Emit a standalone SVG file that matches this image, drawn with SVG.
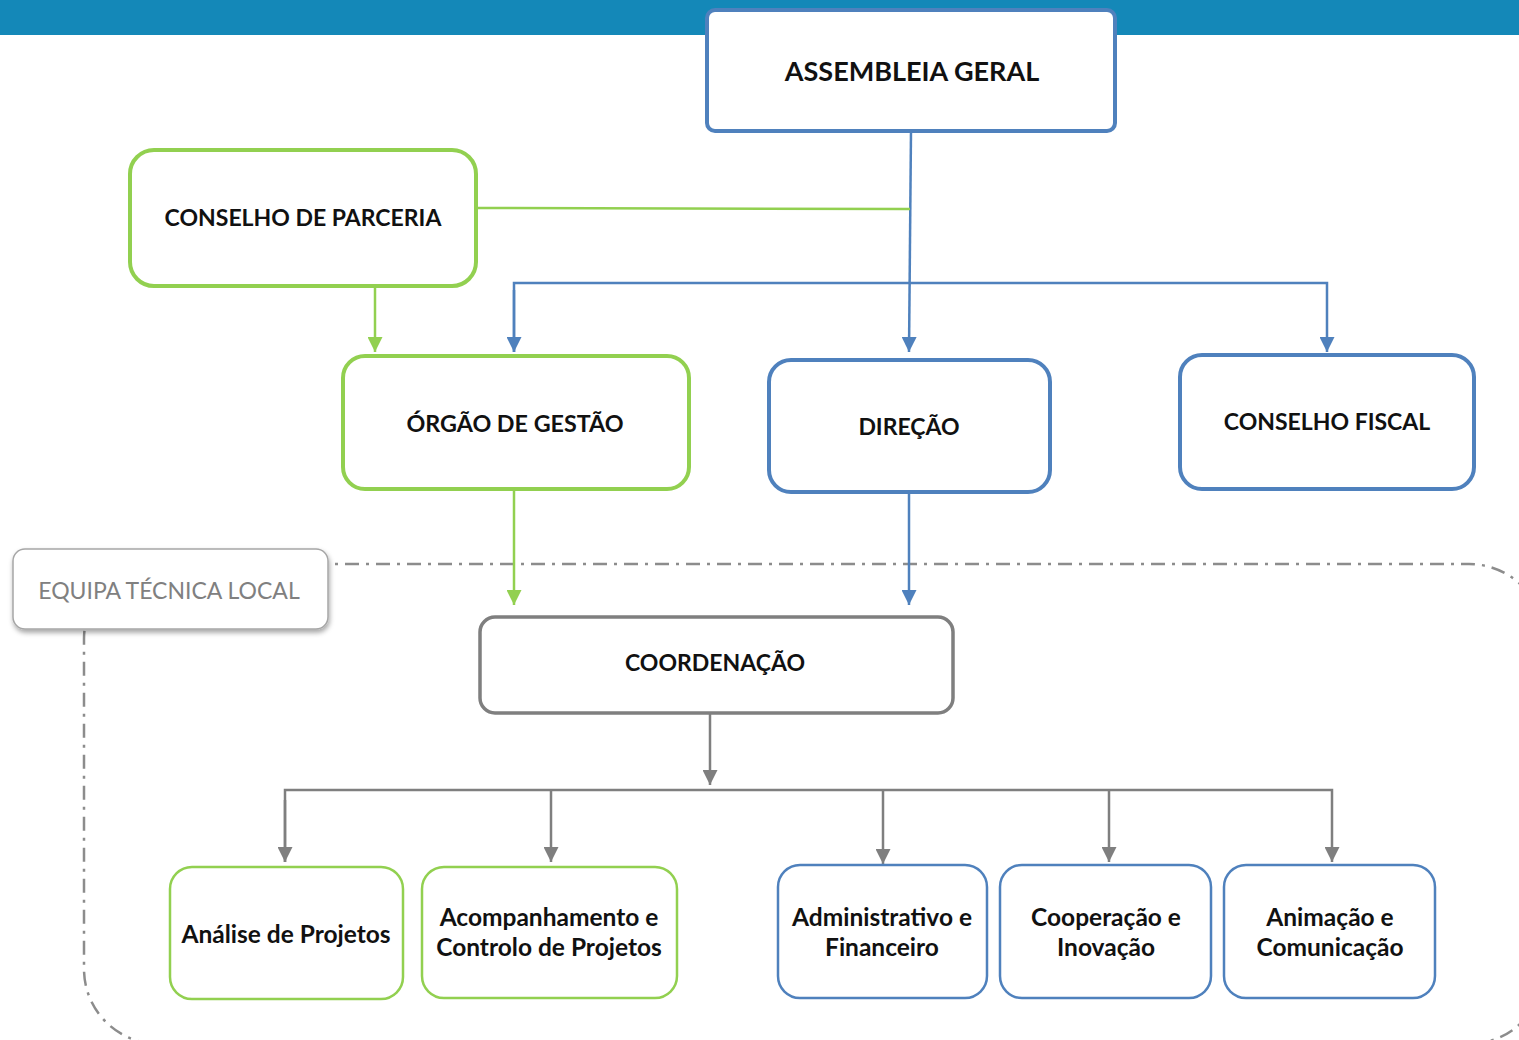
<svg xmlns="http://www.w3.org/2000/svg" width="1519" height="1040" viewBox="0 0 1519 1040">
<defs>
<style>
.t{font-family:Lato,"Open Sans","Liberation Sans",sans-serif;font-weight:bold;fill:#111;text-anchor:middle;dominant-baseline:central}
.s{font-size:24.5px}
.blue{fill:#fff;stroke:#4F81BD}
.green{fill:#fff;stroke:#92D050}
.cb{fill:none;stroke:#4F81BD;stroke-width:2.5}
.cg{fill:none;stroke:#92D050;stroke-width:2.5}
.cy{fill:none;stroke:#7F7F7F;stroke-width:2.5}
</style>
<marker id="ab" viewBox="0 0 10 10" refX="10" refY="5" markerWidth="6" markerHeight="6" orient="auto" markerUnits="strokeWidth"><path d="M0,0L10,5L0,10z" fill="#4F81BD"/></marker>
<marker id="ag" viewBox="0 0 10 10" refX="10" refY="5" markerWidth="6" markerHeight="6" orient="auto" markerUnits="strokeWidth"><path d="M0,0L10,5L0,10z" fill="#92D050"/></marker>
<marker id="ay" viewBox="0 0 10 10" refX="10" refY="5" markerWidth="6" markerHeight="6" orient="auto" markerUnits="strokeWidth"><path d="M0,0L10,5L0,10z" fill="#7F7F7F"/></marker>
<filter id="sh" x="-10%" y="-20%" width="120%" height="150%"><feDropShadow dx="1" dy="3" stdDeviation="2.5" flood-color="#000" flood-opacity="0.35"/></filter>
</defs>
<rect x="0" y="0" width="1519" height="1040" fill="#fff"/>
<rect x="0" y="0" width="1519" height="35" fill="#1488B8"/>
<rect id="boundary" x="84" y="564" width="1460" height="480" rx="75" fill="none" stroke="#8C8C8C" stroke-width="2.5" stroke-dasharray="14 7 3 7"/>
<g id="connectors">
<path class="cb" d="M911,131 L909,352" marker-end="url(#ab)"/>
<path class="cg" d="M476,208 L910,209"/>
<path class="cb" d="M514,352 L514,283 L1327,283 L1327,352" marker-end="url(#ab)"/>
<path class="cb" d="M514,290 L514,352" marker-end="url(#ab)"/>
<path class="cg" d="M375,286 L375,352" marker-end="url(#ag)"/>
<path class="cg" d="M514,489 L514,605" marker-end="url(#ag)"/>
<path class="cb" d="M909,492 L909,605" marker-end="url(#ab)"/>
<path class="cy" d="M710,713 L710,785" marker-end="url(#ay)"/>
<path class="cy" d="M285,862 L285,790 L1332,790 L1332,862" marker-end="url(#ay)"/>
<path class="cy" d="M285,800 L285,862" marker-end="url(#ay)"/>
<path class="cy" d="M551,790 L551,862" marker-end="url(#ay)"/>
<path class="cy" d="M883,790 L883,864" marker-end="url(#ay)"/>
<path class="cy" d="M1109,790 L1109,862" marker-end="url(#ay)"/>
</g>
<g id="assembleia"><rect class="blue" x="707" y="10" width="408" height="121" rx="8" stroke-width="4"/><text class="t" x="912" y="70" font-size="27">ASSEMBLEIA GERAL</text></g>
<g id="conselho-parceria"><rect class="green" x="130" y="150" width="346" height="136" rx="24" stroke-width="4"/><text class="t" x="303" y="217" font-size="23">CONSELHO DE PARCERIA</text></g>
<g id="orgao-gestao"><rect class="green" x="343" y="356" width="346" height="133" rx="22" stroke-width="4"/><text class="t" x="515" y="423" font-size="23.3">ÓRGÃO DE GESTÃO</text></g>
<g id="direcao"><rect class="blue" x="769" y="360" width="281" height="132" rx="22" stroke-width="4"/><text class="t" x="909" y="426" font-size="23">DIREÇÃO</text></g>
<g id="conselho-fiscal"><rect class="blue" x="1180" y="355" width="294" height="134" rx="22" stroke-width="4"/><text class="t" x="1327" y="421" font-size="23">CONSELHO FISCAL</text></g>
<g id="equipa"><rect x="13" y="549" width="315" height="80" rx="12" fill="#fff" stroke="#A6A6A6" stroke-width="1.5" filter="url(#sh)"/><text x="169" y="590" font-family="Lato,'Open Sans','Liberation Sans',sans-serif" font-size="23" fill="#808080" text-anchor="middle" dominant-baseline="central">EQUIPA TÉCNICA LOCAL</text></g>
<g id="coordenacao"><rect x="480" y="617" width="473" height="96" rx="15" fill="#fff" stroke="#7F7F7F" stroke-width="3.5"/><text class="t" x="715" y="662" font-size="23">COORDENAÇÃO</text></g>
<g id="analise"><rect class="green" x="170" y="867" width="233" height="132" rx="22" stroke-width="2.5"/><text class="t s" x="286" y="933">Análise de Projetos</text></g>
<g id="acompanhamento"><rect class="green" x="422" y="867" width="255" height="131" rx="22" stroke-width="2.5"/><text class="t s" x="549" y="916">Acompanhamento e</text><text class="t s" x="549" y="946">Controlo de Projetos</text></g>
<g id="administrativo"><rect class="blue" x="778" y="865" width="209" height="133" rx="22" stroke-width="2.5"/><text class="t s" x="882" y="916">Administrativo e</text><text class="t s" x="882" y="946">Financeiro</text></g>
<g id="cooperacao"><rect class="blue" x="1000" y="865" width="211" height="133" rx="22" stroke-width="2.5"/><text class="t s" x="1106" y="916">Cooperação e</text><text class="t s" x="1106" y="946">Inovação</text></g>
<g id="animacao"><rect class="blue" x="1224" y="865" width="211" height="133" rx="22" stroke-width="2.5"/><text class="t s" x="1330" y="916">Animação e</text><text class="t s" x="1330" y="946">Comunicação</text></g>
</svg>
